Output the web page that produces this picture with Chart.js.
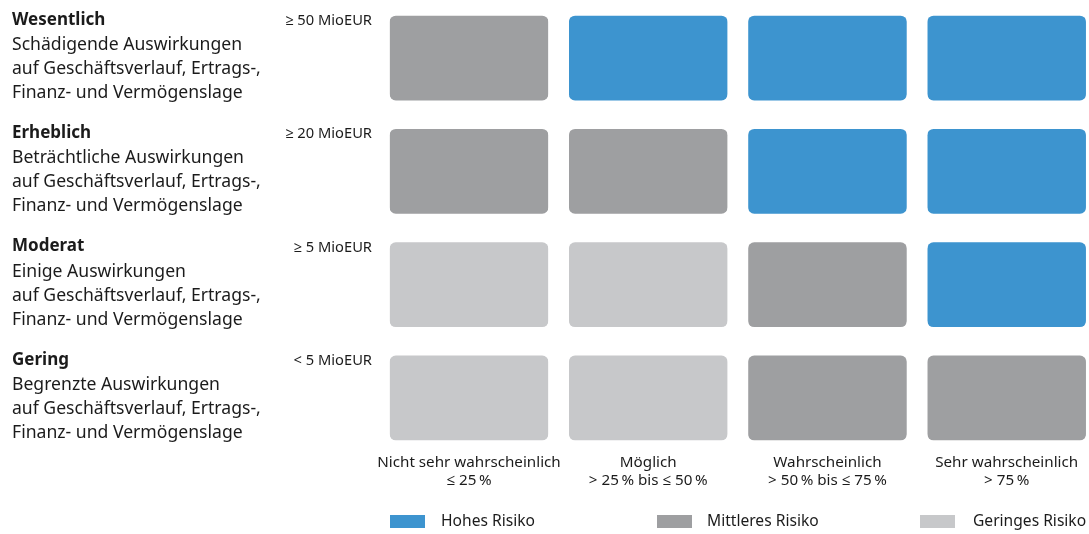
<!DOCTYPE html>
<html lang="de">
<head>
<meta charset="utf-8">
<title>Risikomatrix</title>
<script src="https://cdn.jsdelivr.net/npm/chart.js@4.4.1/dist/chart.umd.min.js"></script>
<style>
    html, body { margin: 0; padding: 0; background: #ffffff; }
    #wrap { width: 1089px; height: 534px; position: relative; }
</style>
</head>
<body>
<div id="wrap"><canvas id="riskChart"></canvas></div>
<script>
// ---- data ----
const impactLevels = ['Wesentlich', 'Erheblich', 'Moderat', 'Gering'];
const impactTexts = [
    'Schädigende Auswirkungen',
    'Beträchtliche Auswirkungen',
    'Einige Auswirkungen',
    'Begrenzte Auswirkungen'
];
const impactDetail = ['auf Geschäftsverlauf, Ertrags-,', 'Finanz- und Vermögenslage'];
const thresholds = ['≥ 50 MioEUR', '≥ 20 MioEUR', '≥ 5 MioEUR', '< 5 MioEUR'];
const likelihoods = ['Nicht sehr wahrscheinlich', 'Möglich', 'Wahrscheinlich', 'Sehr wahrscheinlich'];
const likelihoodRanges = ['≤ 25\u2009%', '> 25\u2009% bis ≤ 50\u2009%', '> 50\u2009% bis ≤ 75\u2009%', '> 75\u2009%'];
const riskLabels = ['Hohes Risiko', 'Mittleres Risiko', 'Geringes Risiko'];
// risk class per cell: 0 = hoch, 1 = mittel, 2 = gering (rows top to bottom)
const riskMatrix = [
    [1, 0, 0, 0],
    [1, 1, 0, 0],
    [2, 2, 1, 0],
    [2, 2, 1, 1]
];

const RISK_COLORS = ['#3d94cf', '#9e9fa1', '#c7c8ca'];
const TEXT = '#1b1b1b';
const FONT = '"Noto Sans", "Open Sans", sans-serif';

// ---- labels, thresholds and legend drawn around the matrix ----
const matrixLabels = {
    id: 'matrixLabels',
    afterDraw(chart) {
        const { ctx, chartArea } = chart;
        const xs = chart.scales.x;
        const ys = chart.scales.y;
        const gap = 14.6;
        ctx.save();
        ctx.fillStyle = TEXT;
        ctx.textBaseline = 'middle';

        impactLevels.forEach((name, r) => {
            const top = ys.getPixelForValue(r) + gap;
            ctx.textAlign = 'left';
            ctx.font = 'bold 17px ' + FONT;
            ctx.fillText(name, 12, top + 4);
            ctx.font = '17.6px ' + FONT;
            ctx.fillText(impactTexts[r], 12, top + 29);
            ctx.fillText(impactDetail[0], 12, top + 53);
            ctx.fillText(impactDetail[1], 12, top + 77);
            ctx.textAlign = 'right';
            ctx.font = '14.7px ' + FONT;
            ctx.fillText(thresholds[r], 372, top + 5);
        });

        ctx.textAlign = 'center';
        ctx.font = '15.2px ' + FONT;
        likelihoods.forEach((name, c) => {
            const x = xs.getPixelForValue(c);
            ctx.fillText(name, x, chartArea.bottom + 8);
            ctx.fillText(likelihoodRanges[c], x, chartArea.bottom + 26);
        });

        const legendX = [390, 657, 920];
        const textOff = [51, 50, 53];
        ctx.textAlign = 'left';
        ctx.font = '15.6px ' + FONT;
        riskLabels.forEach((label, i) => {
            ctx.fillStyle = RISK_COLORS[i];
            ctx.fillRect(legendX[i], 515, 35, 13);
            ctx.fillStyle = TEXT;
            ctx.fillText(label, legendX[i] + textOff[i], 522);
        });
        ctx.restore();
    }
};

new Chart(document.getElementById('riskChart'), {
    type: 'bar',
    data: {
        labels: likelihoods,
        datasets: impactLevels.map((name, r) => ({
            label: name,
            data: likelihoods.map(() => 1),
            backgroundColor: riskMatrix[r].map(k => RISK_COLORS[k]),
            borderColor: '#ffffff',
            borderWidth: { top: 14.6, bottom: 14.6, left: 0, right: 0 },
            borderSkipped: false,
            borderRadius: { topLeft: 21, topRight: 21, bottomLeft: 21, bottomRight: 21 },
            barThickness: 158.5,
            clip: false
        }))
    },
    options: {
        responsive: true,
        maintainAspectRatio: false,
        animation: false,
        layout: { padding: { left: 469, right: 82.3, top: 1.4, bottom: 79.4 } },
        plugins: {
            legend: { display: false },
            tooltip: { enabled: false }
        },
        scales: {
            x: { stacked: true, offset: false, display: false },
            y: { stacked: true, reverse: true, min: 0, max: 4, display: false }
        }
    },
    plugins: [matrixLabels]
});
</script>
</body>
</html>
